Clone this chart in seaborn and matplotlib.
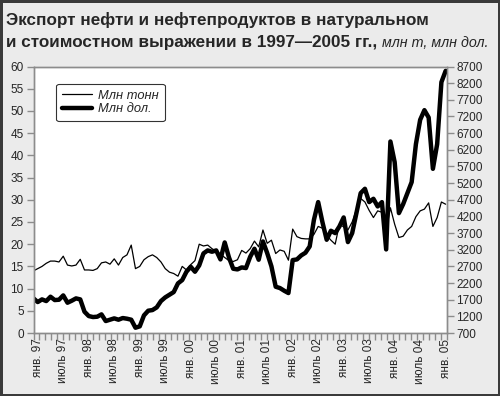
import numpy as np
import pandas as pd
import matplotlib
matplotlib.use('Agg')
import matplotlib.pyplot as plt
import seaborn as sns

# monthly values, Dec 1996 .. Jan 2005
tonnes = [14.0, 14.5, 15.0, 15.7, 16.2, 16.2, 16.0, 17.3, 15.3, 15.1,
          15.3, 16.6, 14.2, 14.2, 14.1, 14.5, 15.8, 16.0, 15.5, 16.7,
          15.3, 17.0, 17.6, 19.8, 14.5, 15.0, 16.5, 17.2, 17.6, 17.0,
          16.0, 14.5, 13.7, 13.4, 12.8, 15.0, 14.2, 15.4, 16.3, 20.0,
          19.6, 19.8, 19.0, 18.4, 17.8, 17.0, 16.3, 16.1, 16.5, 18.6,
          18.0, 19.0, 20.7, 19.4, 23.2, 20.2, 20.9, 17.9, 18.7, 18.4,
          16.4, 23.4, 21.7, 21.3, 21.2, 21.2, 22.2, 24.0, 23.6, 22.0,
          20.9, 20.0, 24.5, 23.9, 23.2, 25.0, 27.8, 30.3, 29.5, 27.6,
          26.0, 27.5, 27.2, 23.0, 28.2, 24.5, 21.5, 21.8, 23.2, 24.0,
          26.2, 27.5, 27.9, 29.3, 24.0, 26.0, 29.5, 29.0]

dollars = [1740, 1630, 1710, 1660, 1790, 1690, 1700, 1830, 1610, 1670,
           1740, 1710, 1340, 1210, 1180, 1190, 1260, 1060, 1100, 1140,
           1100, 1150, 1130, 1100, 860, 900, 1230, 1370, 1390, 1470,
           1660, 1770, 1850, 1930, 2190, 2290, 2540, 2690, 2540, 2730,
           3090, 3180, 3140, 3180, 2910, 3420, 2970, 2630, 2610, 2670,
           2650, 2990, 3230, 2900, 3450, 3100, 2700, 2090, 2050, 1970,
           1900, 2890, 2910, 3030, 3110, 3300, 4100, 4630, 4030, 3500,
           3770, 3700, 3900, 4170, 3430, 3700, 4300, 4900, 5030, 4630,
           4730, 4500, 4630, 3210, 6450, 5830, 4300, 4570, 4900, 5230,
           6370, 7100, 7390, 7170, 5630, 6370, 8230, 8570]

month_index = list(range(-1, len(tonnes) - 1))
tick_labels = ['янв. 97', 'июль 97', 'янв. 98', 'июль 98', 'янв. 99', 'июль 99',
               'янв. 00', 'июль 00', 'янв. 01', 'июль 01', 'янв. 02', 'июль 02',
               'янв. 03', 'июль 03', 'янв. 04', 'июль 04', 'янв. 05']

df = pd.DataFrame({'month': month_index, 'tonnes': tonnes, 'dollars': dollars})

sns.set_style('white')
narrow = ['Liberation Sans Narrow', 'Liberation Sans', 'DejaVu Sans']
plt.rcParams['font.family'] = narrow

fig = plt.figure(figsize=(5, 3.96), dpi=100)
fig.patch.set_facecolor('#ebebeb')
fig.patch.set_edgecolor('#3a3a3a')
fig.patch.set_linewidth(2.5)

ax = fig.add_axes([0.067, 0.159, 0.826, 0.673])
ax.set_facecolor('white')
ax2 = ax.twinx()

sns.lineplot(data=df, x='month', y='tonnes', ax=ax, color='black', linewidth=0.9, label='Млн тонн', legend=False)
sns.lineplot(data=df, x='month', y='dollars', ax=ax2, color='black', linewidth=3.2, label='Млн дол.', legend=False)

ax.set_xlim(-1, 96.2)
ax.set_ylim(0, 60)
ax2.set_ylim(700, 8700)
ax.set_yticks(np.arange(0, 61, 5))
ax2.set_yticks(np.arange(700, 8701, 500))
ax.set_xticks(range(0, 97, 6))
ax.set_xticklabels(tick_labels, rotation=90, fontsize=8.5)
ax.set_xticks(np.linspace(-1, 96.2, 70), minor=True)
ax.set_xlabel('')
ax.set_ylabel('')
ax2.set_ylabel('')

for a in (ax, ax2):
    for s in a.spines.values():
        s.set_color('#8c8c8c')
        s.set_linewidth(1.0)
ax.tick_params(axis='y', direction='out', length=5, width=1, color='#8c8c8c', labelsize=8.5, pad=2, left=True)
ax2.tick_params(axis='y', direction='out', length=5, width=1, color='#8c8c8c', labelsize=8.5, pad=2, right=True)
ax.tick_params(axis='x', which='major', length=0, pad=4)
ax.tick_params(axis='x', which='minor', direction='out', length=5, width=1, color='#8c8c8c', bottom=True)

h1, l1 = ax.get_legend_handles_labels()
h2, l2 = ax2.get_legend_handles_labels()
leg = ax.legend(h1 + h2, l1 + l2, loc='upper left', bbox_to_anchor=(0.04, 0.96),
                frameon=True, fancybox=True, edgecolor='black', handlelength=2.3,
                prop={'style': 'italic', 'size': 9.3, 'family': narrow},
                borderpad=0.45, labelspacing=0.15, handletextpad=0.5)
leg.get_frame().set_linewidth(0.8)

fig.text(0.012, 0.937, 'Экспорт нефти и нефтепродуктов в натуральном',
         fontsize=12.3, fontweight='bold', va='baseline', ha='left')
t2 = fig.text(0.012, 0.881, 'и стоимостном выражении в 1997—2005 гг.,',
              fontsize=12.3, fontweight='bold', va='baseline', ha='left')
fig.canvas.draw()
bb = t2.get_window_extent()
x_end = fig.transFigure.inverted().transform((bb.x1 + 5, bb.y0))[0]
fig.text(x_end, 0.881, 'млн т, млн дол.', fontsize=10.3, style='italic', va='baseline', ha='left')

fig.savefig('out.png', dpi=100, facecolor=fig.get_facecolor(), edgecolor=fig.get_edgecolor())
